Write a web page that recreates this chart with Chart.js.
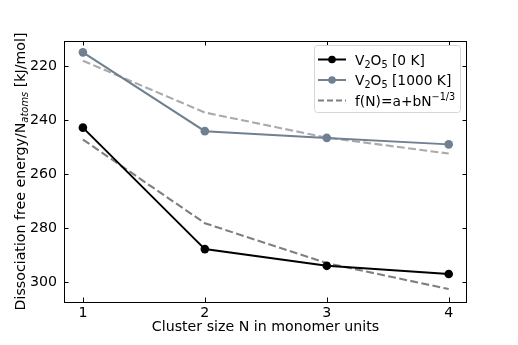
<!DOCTYPE html>
<html>
<head>
<meta charset="utf-8">
<script src="https://cdn.jsdelivr.net/npm/chart.js@4.4.0/dist/chart.umd.min.js"></script>
<style>
  html, body { margin: 0; padding: 0; background: #fff; }
  #wrap { width: 518px; height: 345px; }
</style>
</head>
<body>
<div id="wrap"><canvas id="c"></canvas></div>
<script>
// values
const clusterSizes = [1, 2, 3, 4];
const energy0K = [242.8, 287.8, 294.0, 297.0];
const energy1000K = [214.9, 244.1, 246.6, 249.0];
const fit0K = [247.2, 278.2, 293.0, 302.6];
const fit1000K = [218.0, 237.2, 246.5, 252.4];
const yTicks = [220, 240, 260, 280, 300];

const FONT = '"DejaVu Sans", sans-serif';
const FS = 14.2;
const blue = '#708090';

function toPoints(ys) {
    return clusterSizes.map((x, i) => ({ x: x, y: ys[i] }));
}

// text made of pieces, some of them sub/superscript
function richWidth(ctx, parts, size) {
    let w = 0;
    parts.forEach(p => {
        const s = p.sub || p.sup ? size * 0.7 : size;
        ctx.font = (p.italic ? 'italic ' : '') + s + 'px ' + FONT;
        w += ctx.measureText(p.t).width;
    });
    return w;
}
function drawRich(ctx, parts, x, y, size) {
    ctx.textBaseline = 'alphabetic';
    ctx.textAlign = 'left';
    parts.forEach(p => {
        const s = p.sub || p.sup ? size * 0.7 : size;
        ctx.font = (p.italic ? 'italic ' : '') + s + 'px ' + FONT;
        let dy = 0;
        if (p.sub) dy = size * 0.22;
        if (p.sup) dy = -size * 0.42;
        ctx.fillText(p.t, x, y + dy);
        x += ctx.measureText(p.t).width;
    });
}

const decorPlugin = {
    id: 'decor',
    afterDraw(chart) {
        const ctx = chart.ctx;
        const a = chart.chartArea;
        const xs = chart.scales.x, ys = chart.scales.y;
        ctx.save();
        ctx.strokeStyle = '#000';
        ctx.lineWidth = 1;
        // frame
        ctx.strokeRect(a.left + 0.5, a.top + 0.5, a.right - a.left - 1, a.bottom - a.top);
        // inward ticks on all four sides
        ctx.beginPath();
        clusterSizes.forEach(v => {
            const px = Math.round(xs.getPixelForValue(v)) + 0.5;
            ctx.moveTo(px, a.bottom); ctx.lineTo(px, a.bottom - 4.5);
            ctx.moveTo(px, a.top); ctx.lineTo(px, a.top + 4.5);
        });
        yTicks.forEach(v => {
            const py = Math.round(ys.getPixelForValue(v)) + 0.5;
            ctx.moveTo(a.left, py); ctx.lineTo(a.left + 4.5, py);
            ctx.moveTo(a.right, py); ctx.lineTo(a.right - 4.5, py);
        });
        ctx.stroke();

        ctx.fillStyle = '#000';
        // x axis title
        ctx.font = FS + 'px ' + FONT;
        ctx.textAlign = 'center';
        ctx.textBaseline = 'middle';
        ctx.fillText('Cluster size N in monomer units', (a.left + a.right) / 2, 327);

        // y axis title
        const yParts = [
            { t: 'Dissociation free energy/N' },
            { t: 'atoms', sub: true, italic: true },
            { t: ' [kJ/mol]' }
        ];
        ctx.save();
        ctx.translate(25, (a.top + a.bottom) / 2);
        ctx.rotate(-Math.PI / 2);
        const w = richWidth(ctx, yParts, FS);
        drawRich(ctx, yParts, -w / 2, 0, FS);
        ctx.restore();

        // legend
        const lx = 314, ly = 45, lw = 146, lh = 67;
        ctx.beginPath();
        ctx.roundRect(lx + 0.5, ly + 0.5, lw, lh, 3);
        ctx.fillStyle = 'rgba(255,255,255,0.8)';
        ctx.fill();
        ctx.strokeStyle = '#d6d6d6';
        ctx.stroke();

        const rows = [
            { color: '#000', dash: [], marker: true,
              parts: [{ t: 'V' }, { t: '2', sub: true }, { t: 'O' }, { t: '5', sub: true }, { t: ' [0 K]' }] },
            { color: blue, dash: [], marker: true,
              parts: [{ t: 'V' }, { t: '2', sub: true }, { t: 'O' }, { t: '5', sub: true }, { t: ' [1000 K]' }] },
            { color: '#7f7f7f', dash: [6, 3], marker: false,
              parts: [{ t: 'f(N)=a+bN' }, { t: '\u22121/3', sup: true }] }
        ];
        rows.forEach((r, i) => {
            const cy = 59.5 + i * 20.5;
            ctx.beginPath();
            ctx.setLineDash(r.dash);
            ctx.strokeStyle = r.color;
            ctx.lineWidth = 2;
            ctx.moveTo(318, cy); ctx.lineTo(346, cy);
            ctx.stroke();
            ctx.setLineDash([]);
            if (r.marker) {
                ctx.beginPath();
                ctx.arc(332, cy, 3.8, 0, Math.PI * 2);
                ctx.fillStyle = r.color;
                ctx.fill();
            }
            ctx.fillStyle = '#000';
            drawRich(ctx, r.parts, 355, cy + 5, 13.8);
        });
        ctx.restore();
    }
};

new Chart(document.getElementById('c'), {
    type: 'line',
    data: {
        datasets: [
            {
                label: 'V2O5 [0 K]',
                data: toPoints(energy0K),
                borderColor: '#000',
                backgroundColor: '#000',
                borderWidth: 2,
                pointRadius: 4.3,
                pointBorderWidth: 0,
                pointHoverRadius: 4.3
            },
            {
                label: 'V2O5 [1000 K]',
                data: toPoints(energy1000K),
                borderColor: blue,
                backgroundColor: blue,
                borderWidth: 2,
                pointRadius: 4.3,
                pointBorderWidth: 0,
                pointHoverRadius: 4.3
            },
            {
                label: 'fit 0 K',
                data: toPoints(fit0K),
                borderColor: '#7f7f7f',
                borderWidth: 2.1,
                borderDash: [7.9, 3.4],
                pointRadius: 0
            },
            {
                label: 'fit 1000 K',
                data: toPoints(fit1000K),
                borderColor: '#aaaaaa',
                borderWidth: 2.1,
                borderDash: [7.9, 3.4],
                pointRadius: 0
            }
        ]
    },
    options: {
        responsive: true,
        maintainAspectRatio: false,
        animation: false,
        events: [],
        layout: { padding: { top: 41, right: 51, left: 0, bottom: 0 } },
        plugins: {
            legend: { display: false },
            tooltip: { enabled: false }
        },
        scales: {
            x: {
                type: 'linear',
                min: 0.845,
                max: 4.15,
                afterBuildTicks: s => { s.ticks = clusterSizes.map(v => ({ value: v })); },
                afterFit: s => { s.height = 43; },
                grid: { display: false, drawTicks: false },
                border: { display: false },
                ticks: {
                    color: '#000',
                    padding: 3,
                    font: { family: FONT, size: FS },
                    callback: v => String(v)
                }
            },
            y: {
                reverse: true,
                min: 210.7,
                max: 307.4,
                afterBuildTicks: s => { s.ticks = yTicks.map(v => ({ value: v })); },
                afterFit: s => { s.width = 64; },
                grid: { display: false, drawTicks: false },
                border: { display: false },
                ticks: {
                    color: '#000',
                    padding: 7,
                    font: { family: FONT, size: FS },
                    callback: v => String(v)
                }
            }
        }
    },
    plugins: [decorPlugin]
});
</script>
</body>
</html>
